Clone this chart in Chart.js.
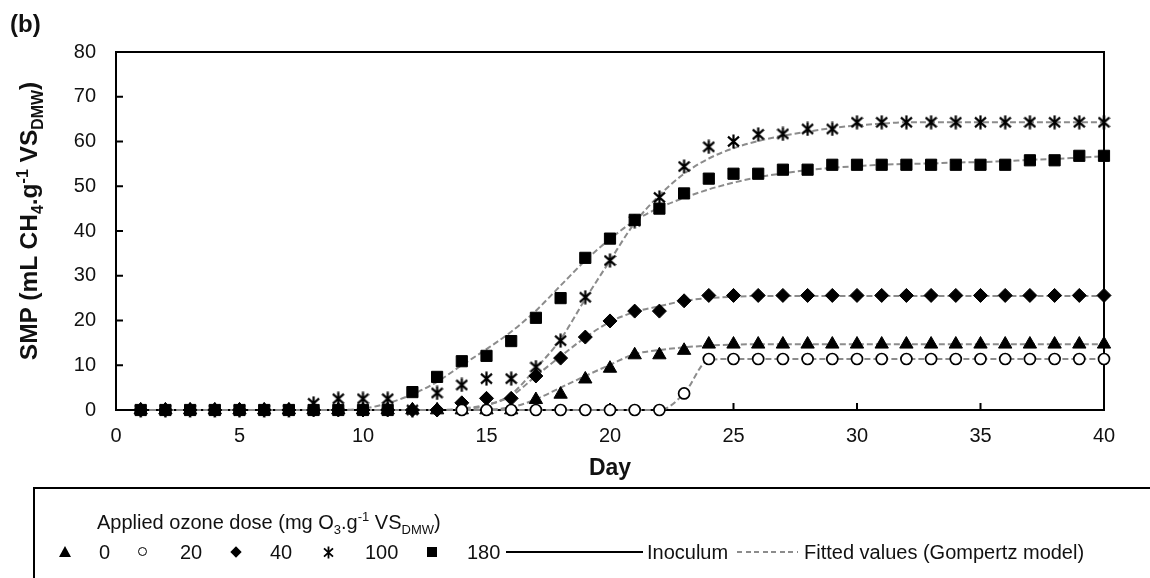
<!DOCTYPE html>
<html>
<head>
<meta charset="utf-8">
<script src="https://cdn.jsdelivr.net/npm/chart.js@4/dist/chart.umd.min.js"></script>
<style>
  body { margin: 0; background: #fff; }
  #wrap { position: relative; width: 1150px; height: 578px; overflow: hidden;
          font-family: "Liberation Sans", Arial, sans-serif; color: #111; }
  #chart { position: absolute; left: 0; top: 0; }
  .txt { position: absolute; white-space: nowrap; line-height: 1; }
  sub, sup { font-size: 65%; line-height: 0; }
  #panel { left: 10px; top: 12px; font-size: 24px; font-weight: bold; }
  #ytitle { left: 29px; top: 221px; font-size: 24.5px; font-weight: bold;
            transform: translate(-50%, -50%) rotate(-90deg); }
  #xtitle { left: 610px; top: 467px; font-size: 23px; font-weight: bold;
            transform: translate(-50%, -50%); }
  #legend { position: absolute; left: 33px; top: 487px; width: 1200px; height: 200px;
            border: 2px solid #000; box-sizing: border-box; }
  .lg { position: absolute; font-size: 20px; line-height: 24px; white-space: nowrap; }
  .mk { position: absolute; }
  .tri { width: 12px; height: 11px; background: #000; clip-path: polygon(50% 0, 100% 100%, 0 100%); }
  .circ { width: 7px; height: 7px; border: 1.5px solid #000; border-radius: 50%; background: #fff; }
  .dia { width: 8px; height: 8px; background: #000; transform: rotate(45deg); }
  .sq { width: 10px; height: 10px; background: #000; }
  .solid { height: 2px; background: #000; }
  .dash { height: 2px; background: repeating-linear-gradient(90deg, #8c8c8c 0 5px, transparent 5px 8.5px); }
</style>
</head>
<body>
<div id="wrap">
  <canvas id="chart" width="1150" height="578"></canvas>
  <div class="txt" id="panel">(b)</div>
  <div class="txt" id="ytitle">SMP (mL CH<sub>4</sub>.g<sup>-1</sup> VS<sub>DMW</sub>)</div>
  <div class="txt" id="xtitle">Day</div>
  <div id="legend">
    <div class="lg" style="left:62px; top:21px;">Applied ozone dose (mg O<sub>3</sub>.g<sup>-1</sup> VS<sub>DMW</sub>)</div>
    <div class="mk tri" style="left:24px; top:57px;"></div>
    <div class="lg" style="left:64px; top:51px;">0</div>
    <div class="mk circ" style="left:103px; top:58px;"></div>
    <div class="lg" style="left:145px; top:51px;">20</div>
    <div class="mk dia" style="left:197px; top:59px;"></div>
    <div class="lg" style="left:235px; top:51px;">40</div>
    <span class="mk" id="astLegend" style="left:288px; top:56px;"></span>
    <div class="lg" style="left:330px; top:51px;">100</div>
    <div class="mk sq" style="left:392px; top:58px;"></div>
    <div class="lg" style="left:432px; top:51px;">180</div>
    <div class="mk solid" style="left:471px; top:62px; width:137px;"></div>
    <div class="lg" style="left:612px; top:51px;">Inoculum</div>
    <div class="mk dash" style="left:702px; top:62px; width:61px;"></div>
    <div class="lg" style="left:769px; top:51px;">Fitted values (Gompertz model)</div>
  </div>
</div>
<script>
// sampling days
const days = [1, 2, 3, 4, 5, 6, 7, 8, 9, 10, 11, 12, 13, 14, 15, 16, 17, 18, 19, 20,
  21, 22, 23, 24, 25, 26, 27, 28, 29, 30, 31, 32, 33, 34, 35, 36, 37, 38, 39, 40];

// measured SMP per ozone dose (mL CH4/g VS)
const dose0 = [0, 0, 0, 0, 0, 0, 0, 0, 0, 0, 0, 0, 0, 0, 0, 0, 2.3, 3.5, 6.9, 9.3,
  12.3, 12.3, 13.3, 14.7, 14.7, 14.7, 14.7, 14.7, 14.7, 14.7, 14.7, 14.7, 14.7, 14.7, 14.7, 14.7, 14.7, 14.7, 14.7, 14.7];
const dose20 = [null, null, null, null, null, null, null, null, null, null, null, null, null, 0, 0, 0, 0, 0, 0, 0,
  0, 0, 3.7, 11.4, 11.4, 11.4, 11.4, 11.4, 11.4, 11.4, 11.4, 11.4, 11.4, 11.4, 11.4, 11.4, 11.4, 11.4, 11.4, 11.4];
const dose40 = [0, 0, 0, 0, 0, 0, 0, 0, 0, 0, 0, 0, 0, 1.6, 2.6, 2.6, 7.6, 11.6, 16.3, 19.9,
  22.1, 22.1, 24.4, 25.6, 25.6, 25.6, 25.6, 25.6, 25.6, 25.6, 25.6, 25.6, 25.6, 25.6, 25.6, 25.6, 25.6, 25.6, 25.6, 25.6];
const dose100 = [0, 0, 0, 0, 0, 0, 0, 1.5, 2.5, 2.5, 2.5, 0, 3.8, 5.6, 7.0, 7.0, 9.6, 15.5, 25.2, 33.4,
  42.2, 47.5, 54.4, 58.8, 60.0, 61.6, 61.7, 62.8, 62.8, 64.3, 64.3, 64.3, 64.3, 64.3, 64.3, 64.3, 64.3, 64.3, 64.3, 64.3];
const dose180 = [0, 0, 0, 0, 0, 0, 0, 0, 0, 0, 0, 4.0, 7.4, 10.9, 12.1, 15.4, 20.6, 25.0, 34.0, 38.3,
  42.5, 45.0, 48.4, 51.7, 52.8, 52.8, 53.7, 53.7, 54.8, 54.8, 54.8, 54.8, 54.8, 54.8, 54.8, 54.8, 55.8, 55.8, 56.8, 56.8];
const inoculum = [0, 0, 0, 0, 0, 0, 0, 0, 0, 0, 0, 0, 0, 0, 0, 0, 0, 0, 0, 0,
  0, 0, 0, 0, 0, 0, 0, 0, 0, 0, 0, 0, 0, 0, 0, 0, 0, 0, 0, 0];

// Gompertz fitted curves
const fit0 = [0, 0, 0, 0, 0, 0, 0, 0, 0, 0, 0, 0, 0, 0, 0.1, 0.6, 2.4, 5.0, 7.6, 10.1,
  12.5, 13.4, 14.0, 14.4, 14.6, 14.7, 14.7, 14.7, 14.7, 14.7, 14.7, 14.7, 14.7, 14.7, 14.7, 14.7, 14.7, 14.7, 14.7, 14.7];
const fit20 = [0, 0, 0, 0, 0, 0, 0, 0, 0, 0, 0, 0, 0, 0, 0, 0, 0, 0, 0, 0,
  0, 0, 3.7, 11.2, 11.4, 11.4, 11.4, 11.4, 11.4, 11.4, 11.4, 11.4, 11.4, 11.4, 11.4, 11.4, 11.4, 11.4, 11.4, 11.4];
const fit40 = [0, 0, 0, 0, 0, 0, 0, 0, 0, 0, 0, 0, 0, 0.3, 1.2, 3.1, 7.6, 12.0, 16.2, 19.7,
  21.9, 23.2, 24.4, 25.0, 25.3, 25.5, 25.5, 25.5, 25.5, 25.5, 25.5, 25.5, 25.5, 25.5, 25.5, 25.5, 25.5, 25.5, 25.5, 25.5];
const fit100 = [0, 0, 0, 0, 0, 0, 0, 0, 0, 0, 0, 0, 0, 0.2, 1.0, 3.5, 9.3, 15.8, 24.8, 33.4,
  41.8, 48.0, 52.8, 56.2, 58.5, 60.1, 61.3, 62.2, 63.0, 63.6, 64.0, 64.3, 64.3, 64.3, 64.3, 64.3, 64.3, 64.3, 64.3, 64.3];
const fit180 = [0, 0, 0, 0, 0, 0, 0, 0, 0, 0.3, 1.5, 3.5, 6.3, 10.0, 13.6, 17.5, 22.2, 27.8, 33.4, 38.2,
  42.3, 45.2, 47.4, 49.3, 50.8, 52.0, 52.9, 53.6, 54.1, 54.5, 54.8, 55.0, 55.1, 55.3, 55.4, 55.6, 55.9, 56.1, 56.4, 56.7];

const xTicks = [0, 5, 10, 15, 20, 25, 30, 35, 40];
const yTicks = [0, 10, 20, 30, 40, 50, 60, 70, 80];

const pts = arr => days.map((d, i) => ({ x: d, y: arr[i] }));

// asterisk marker: X with a vertical bar
function asterisk(w, h, lw) {
  const c = document.createElement('canvas');
  c.width = w; c.height = h;
  const g = c.getContext('2d');
  g.strokeStyle = '#000';
  g.lineWidth = lw;
  g.beginPath();
  g.moveTo(w / 2, 0.5); g.lineTo(w / 2, h - 0.5);
  g.moveTo(1, h * 0.18); g.lineTo(w - 1, h * 0.82);
  g.moveTo(w - 1, h * 0.18); g.lineTo(1, h * 0.82);
  g.stroke();
  return c;
}
document.getElementById('astLegend').appendChild(asterisk(11, 13, 1.8));
const astStyle = asterisk(13, 15, 2.2);

function markers(label, arr, style, radius, fill) {
  return {
    label, data: pts(arr), showLine: false, clip: false,
    pointStyle: style, pointRadius: radius,
    pointBackgroundColor: fill, pointBorderColor: '#000', pointBorderWidth: style === 'circle' ? 1.7 : 1
  };
}
function fitted(arr) {
  return {
    label: 'Fitted', data: pts(arr), pointRadius: 0, clip: false,
    borderColor: '#8c8c8c', borderWidth: 2, borderDash: [6, 3],
    cubicInterpolationMode: 'monotone'
  };
}

const frame = {
  id: 'frame',
  beforeDatasetsDraw(chart) {
    const { ctx, chartArea: a, scales: { x, y } } = chart;
    ctx.save();
    ctx.strokeStyle = '#000';
    ctx.lineWidth = 2;
    ctx.strokeRect(a.left, a.top, a.right - a.left, a.bottom - a.top);
    ctx.beginPath();
    y.ticks.forEach(t => {
      const py = y.getPixelForValue(t.value);
      ctx.moveTo(a.left, py); ctx.lineTo(a.left + 7, py);
    });
    x.ticks.forEach(t => {
      const px = x.getPixelForValue(t.value);
      ctx.moveTo(px, a.bottom); ctx.lineTo(px, a.bottom - 7);
    });
    ctx.stroke();
    ctx.restore();
  }
};

const tickFont = { family: '"Liberation Sans", Arial, sans-serif', size: 20 };

new Chart(document.getElementById('chart'), {
  type: 'line',
  data: {
    datasets: [
      markers('20', dose20, 'circle', 5.5, '#fff'),
      markers('180', dose180, 'rect', 7.9, '#000'),
      markers('100', dose100, astStyle, 6, '#000'),
      markers('40', dose40, 'rectRot', 7, '#000'),
      markers('0', dose0, 'triangle', 7.7, '#000'),
      fitted(fit180),
      fitted(fit100),
      fitted(fit40),
      fitted(fit20),
      fitted(fit0),
      { label: 'Inoculum', data: pts(inoculum), pointRadius: 0, borderColor: '#000', borderWidth: 2, clip: false }
    ]
  },
  options: {
    responsive: false,
    animation: false,
    events: [],
    devicePixelRatio: 1,
    layout: { padding: { top: 52, right: 46, left: 0, bottom: 0 } },
    plugins: { legend: { display: false }, tooltip: { enabled: false } },
    scales: {
      x: {
        type: 'linear', min: 0, max: 40,
        afterBuildTicks: s => { s.ticks = xTicks.map(v => ({ value: v })); },
        afterFit: s => { s.height = 168; },
        grid: { display: false, drawTicks: false },
        border: { display: false },
        ticks: { font: tickFont, color: '#111', padding: 14, maxRotation: 0 }
      },
      y: {
        min: 0, max: 80,
        afterBuildTicks: s => { s.ticks = yTicks.map(v => ({ value: v })); },
        afterFit: s => { s.width = 116; },
        grid: { display: false, drawTicks: false },
        border: { display: false },
        ticks: { font: tickFont, color: '#111', padding: 20 }
      }
    }
  },
  plugins: [frame]
});
</script>
</body>
</html>
